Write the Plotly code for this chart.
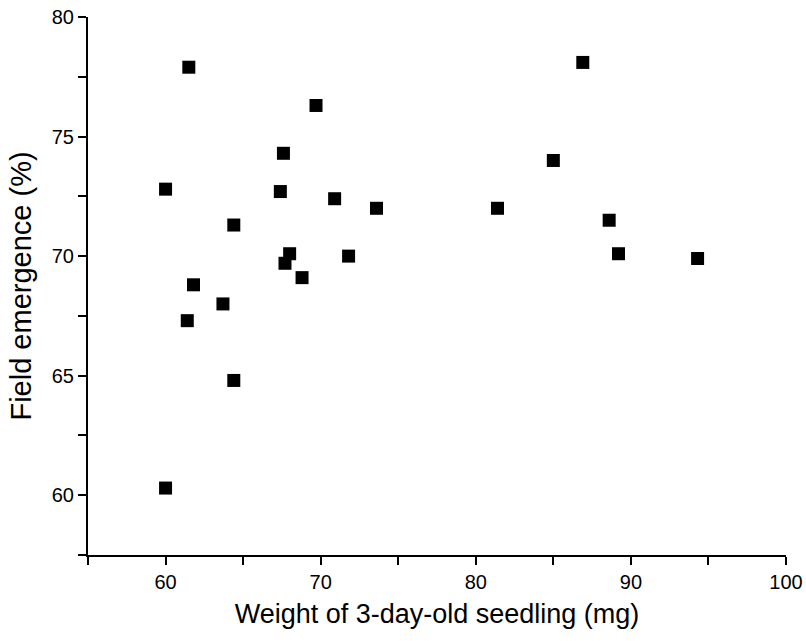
import plotly.graph_objects as go

# Weight of 3-day-old seedling (mg)
weight = [61.5, 69.7, 67.6, 60.0, 67.4, 70.9, 73.6, 64.4, 68.0, 67.7, 71.8, 68.8,
          61.8, 63.7, 61.4, 64.4, 60.0,
          86.9, 85.0, 81.4, 88.6, 89.2, 94.3]
# Field emergence (%)
emergence = [77.9, 76.3, 74.3, 72.8, 72.7, 72.4, 72.0, 71.3, 70.1, 69.7, 70.0, 69.1,
             68.8, 68.0, 67.3, 64.8, 60.3,
             78.1, 74.0, 72.0, 71.5, 70.1, 69.9]

x_ticks = [60, 70, 80, 90, 100]
y_ticks = [60, 65, 70, 75, 80]

FONT = "Liberation Sans, Arial, sans-serif"

fig = go.Figure()
fig.add_trace(go.Scatter(
    x=weight, y=emergence, mode="markers",
    marker=dict(symbol="square", size=13, color="black", line=dict(width=0)),
    showlegend=False,
))

axis_common = dict(
    showgrid=False, zeroline=False, showline=True, linecolor="black", linewidth=2,
    ticks="outside", ticklen=8, tickwidth=2, tickcolor="black",
    tickfont=dict(family=FONT, size=20, color="black"),
    mirror=False, automargin=False,
)

fig.update_xaxes(
    **axis_common,
    range=[55, 100], tickvals=x_ticks, ticktext=[str(v) for v in x_ticks],
    minor=dict(ticks="outside", ticklen=8, tickwidth=2, tickcolor="black", tick0=55, dtick=5),
    title=dict(text="Weight of 3-day-old seedling (mg)", font=dict(family=FONT, size=27, color="black"), standoff=12),
)
fig.update_yaxes(
    **axis_common,
    range=[57.5, 80], tickvals=y_ticks, ticktext=[str(v) for v in y_ticks],
    minor=dict(ticks="outside", ticklen=8, tickwidth=2, tickcolor="black", tick0=57.5, dtick=2.5),
    title=dict(text="Field emergence (%)", font=dict(family=FONT, size=29, color="black"), standoff=12),
)

fig.update_layout(
    width=806, height=641,
    margin=dict(l=88, r=20, t=17, b=86),
    plot_bgcolor="white", paper_bgcolor="white",
)

fig.write_html("out.html")
